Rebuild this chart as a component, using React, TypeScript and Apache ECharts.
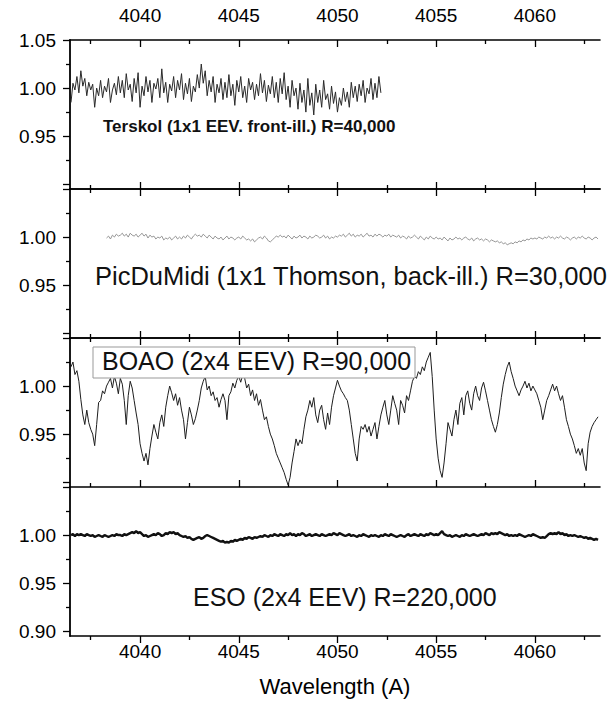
import React, { useEffect, useRef } from "react";
import * as echarts from "echarts";

// ---- axes ----
const X_MIN = 4036.45;
const X_MAX = 4063.3;
const Y_MIN = 0.895;
const Y_MAX = 1.05;
const xMajorTicks = [4040, 4045, 4050, 4055, 4060];
const xMinorTicks = [4037.5, 4042.5, 4047.5, 4052.5, 4057.5, 4062.5];
const yMajorTicks = [0.9, 0.95, 1.0, 1.05];
const yMinorTicks = [0.925, 0.975, 1.025];
const yLabelSets = [
  [0.95, 1.0, 1.05],
  [0.95, 1.0],
  [0.95, 1.0],
  [0.9, 0.95, 1.0],
];
const xAxisTitle = "Wavelength (A)";
const panelLabels = [
  "Terskol (1x1 EEV. front-ill.) R=40,000",
  "PicDuMidi (1x1 Thomson, back-ill.) R=30,000",
  "BOAO (2x4 EEV) R=90,000",
  "ESO (2x4 EEV) R=220,000",
];

// ---- spectra (sampled every 0.1 A from the start wavelength) ----
const STEP = 0.1;

const terskolStart = 4036.5;
const terskolFlux = [
  0.985, 1.005, 0.998, 1.012, 0.995,
  1.018, 1.002, 1.010, 0.992, 1.006, 0.998, 1.004, 0.980, 1.000, 0.992,
  1.008, 0.990, 1.002, 0.996, 1.010, 0.985, 0.998, 1.005, 0.993, 1.012,
  0.995, 1.008, 0.990, 1.015, 0.998, 1.004, 0.986, 1.010, 0.995, 1.016,
  0.980, 1.002, 0.992, 1.012, 0.996, 1.008, 0.985, 1.005, 0.999, 1.010,
  0.990, 1.020, 0.995, 1.006, 0.985, 1.004, 0.997, 1.012, 0.990, 1.008,
  0.998, 1.015, 0.988, 1.005, 0.994, 1.010, 0.986, 1.002, 0.996, 1.014,
  1.000, 1.025, 1.005, 1.018, 0.992, 1.008, 0.996, 1.012, 0.985, 1.004,
  0.995, 1.010, 0.988, 1.006, 0.990, 1.014, 0.992, 1.004, 0.982, 1.008,
  0.996, 1.012, 0.990, 1.002, 0.985, 1.010, 0.998, 1.006, 0.988, 1.004,
  0.992, 1.015, 0.995, 1.008, 0.986, 1.003, 0.994, 1.012, 0.990, 1.006,
  0.985, 1.010, 0.994, 1.016, 0.988, 1.002, 0.980, 1.008, 0.992, 1.000,
  0.978, 1.005, 0.985, 0.998, 0.975, 1.010, 0.982, 0.995, 0.972, 1.004,
  0.985, 0.998, 0.980, 1.008, 0.988, 0.994, 0.978, 1.002, 0.984, 0.996,
  0.975, 0.990, 0.982, 1.000, 0.986, 0.996, 0.980, 1.006, 0.990, 1.002,
  0.986, 1.004, 0.992, 1.008, 0.985, 1.000, 0.994, 1.010, 0.988, 1.005,
  0.990, 1.012, 0.995,
];

const picStart = 4038.3;
const picFlux = [
  0.999, 1.001, 0.998, 1.002, 1.000, 1.003, 1.001,
  1.002, 1.004, 1.001, 1.003, 1.000, 1.004, 1.002, 1.001, 1.003, 1.000,
  1.002, 1.004, 1.001, 1.003, 0.999, 1.002, 1.000, 1.001, 0.998, 1.000,
  0.999, 1.001, 0.997, 0.999, 0.998, 1.000, 0.997, 0.999, 1.001, 0.998,
  1.000, 0.998, 1.001, 0.999, 1.002, 1.000, 0.998, 1.001, 1.003, 1.001,
  1.002, 1.000, 1.003, 1.001, 0.999, 1.002, 1.000, 0.998, 1.001, 0.999,
  0.998, 1.000, 0.997, 0.999, 1.001, 0.998, 1.000, 0.999, 0.997, 0.999,
  1.000, 0.998, 1.001, 0.999, 0.997, 0.998, 0.996, 0.998, 0.995, 0.997,
  0.999, 1.000, 0.998, 1.001, 0.999, 0.996, 0.995, 0.997, 0.999, 1.001,
  1.000, 1.002, 1.000, 1.001, 0.999, 1.002, 1.000, 0.998, 1.001, 0.999,
  1.000, 1.002, 0.999, 1.001, 1.000, 0.998, 1.001, 0.999, 1.000, 1.002,
  1.001, 0.999, 1.000, 1.002, 0.999, 1.001, 0.998, 1.000, 0.999, 1.001,
  1.000, 1.002, 1.001, 1.003, 1.000, 1.002, 1.004, 1.001, 1.003, 1.000,
  1.002, 1.001, 1.003, 1.000, 1.002, 1.004, 1.001, 1.002, 1.000, 1.003,
  1.001, 1.003, 1.002, 1.000, 1.002, 1.001, 1.003, 1.000, 1.002, 1.001,
  1.000, 1.002, 0.999, 1.001, 1.000, 0.998, 1.001, 0.999, 1.000, 1.002,
  1.000, 0.998, 1.001, 0.999, 0.997, 1.000, 0.998, 1.001, 0.999, 0.998,
  1.000, 0.998, 0.999, 0.997, 1.000, 0.998, 0.996, 0.999, 0.997, 0.998,
  1.000, 0.998, 0.999, 0.997, 0.999, 1.000, 0.998, 0.997, 0.999, 0.996,
  0.998, 0.999, 0.997, 0.998, 0.996, 0.998, 0.997, 0.995, 0.997, 0.996,
  0.995, 0.996, 0.994, 0.995, 0.993, 0.994, 0.992, 0.993, 0.994, 0.993,
  0.995, 0.994, 0.996, 0.995, 0.997, 0.996, 0.998, 0.997, 0.999, 0.998,
  0.999, 0.998, 1.000, 0.999, 0.998, 1.000, 0.999, 1.001, 0.999, 1.000,
  0.998, 1.000, 0.999, 1.001, 0.999, 0.998, 1.000, 0.999, 0.997, 0.999,
  1.000, 0.998, 1.000, 0.999, 1.001, 0.999, 0.998, 1.000, 0.999, 0.997,
  0.999, 1.000, 0.998,
];

const boaoStart = 4036.5;
const boaoFlux = [
  1.020, 1.025, 1.012, 1.016, 1.005,
  0.986, 0.970, 0.960, 0.975, 0.962, 0.955, 0.950, 0.938, 0.960, 0.983,
  0.985, 0.995, 0.992, 1.000, 1.004, 1.008, 0.998, 1.010, 1.003, 0.992,
  1.008, 1.002, 0.985, 0.960, 0.990, 1.005, 0.998, 0.985, 0.972, 0.960,
  0.940, 0.930, 0.922, 0.930, 0.918, 0.935, 0.948, 0.960, 0.952, 0.945,
  0.962, 0.970, 0.958, 0.978, 0.990, 1.000, 0.993, 0.985, 0.992, 0.980,
  0.988, 0.975, 0.965, 0.945, 0.962, 0.978, 0.970, 0.960, 0.966, 0.975,
  0.985, 0.998, 1.005, 1.010, 0.996, 1.000, 0.990, 0.994, 0.985, 0.988,
  0.978, 0.986, 0.992, 0.985, 0.965, 0.990, 0.994, 1.003, 0.998, 1.006,
  1.010, 1.004, 1.012, 1.008, 0.998, 1.002, 0.990, 0.996, 0.985, 0.992,
  0.980, 0.986, 0.975, 0.965, 0.968, 0.958, 0.950, 0.945, 0.938, 0.930,
  0.925, 0.920, 0.915, 0.910, 0.903, 0.897, 0.905, 0.920, 0.932, 0.945,
  0.938, 0.944, 0.940, 0.955, 0.968, 0.975, 0.985, 0.978, 0.988, 0.970,
  0.962, 0.975, 0.980, 0.965, 0.955, 0.972, 0.960, 0.978, 0.990, 0.998,
  1.006, 1.000, 0.995, 0.992, 0.988, 0.985, 0.975, 0.960, 0.945, 0.930,
  0.922, 0.945, 0.958, 0.955, 0.960, 0.952, 0.958, 0.948, 0.955, 0.962,
  0.945, 0.958, 0.970, 0.978, 0.985, 0.970, 0.960, 0.975, 0.990, 0.982,
  0.975, 0.960, 0.985, 0.980, 0.972, 0.990, 0.985, 0.995, 1.005, 1.010,
  1.008, 1.015, 1.012, 1.020, 1.016, 1.025, 1.030, 1.035, 1.010, 0.975,
  0.945, 0.925, 0.912, 0.905, 0.920, 0.940, 0.962, 0.955, 0.948, 0.965,
  0.975, 0.960, 0.982, 0.988, 0.970, 0.990, 0.995, 0.982, 0.975, 0.992,
  1.000, 0.990, 0.985, 0.998, 1.004, 0.995, 0.985, 0.975, 0.965, 0.958,
  0.952, 0.960, 0.972, 0.988, 1.002, 1.012, 1.020, 1.025, 1.015, 1.008,
  1.000, 0.995, 0.990, 0.996, 1.000, 1.005, 0.998, 1.003, 0.995, 1.000,
  0.996, 0.992, 0.985, 0.978, 0.965, 0.975, 0.985, 0.990, 0.996, 1.002,
  0.995, 1.000, 0.992, 0.985, 0.990, 0.978, 0.965, 0.958, 0.950, 0.945,
  0.938, 0.930, 0.935, 0.928, 0.935, 0.920, 0.912, 0.940, 0.952, 0.958,
  0.962, 0.965, 0.968,
];

const esoStart = 4036.5;
const esoFlux = [
  1.000, 1.001, 0.999, 1.001, 1.000,
  1.001, 1.000, 0.999, 1.001, 1.000, 0.999, 1.000, 0.998, 0.999, 1.000,
  0.999, 0.998, 1.000, 0.999, 0.998, 0.999, 1.000, 0.999, 1.001, 1.000,
  1.000, 0.999, 1.001, 1.000, 1.001, 1.002, 1.003, 1.002, 1.004, 1.002,
  1.003, 1.001, 0.999, 1.000, 0.998, 0.999, 1.000, 1.001, 1.000, 1.002,
  1.001, 0.999, 1.000, 1.002, 1.001, 1.003, 1.002, 1.003, 1.001, 1.002,
  1.000, 0.999, 0.998, 0.999, 0.997, 0.998, 0.996, 0.995, 0.996, 0.997,
  0.998, 0.996, 0.997, 0.999, 1.000, 0.999, 0.998, 0.997, 0.996, 0.995,
  0.994, 0.993, 0.994, 0.992, 0.993, 0.992, 0.994, 0.993, 0.995, 0.994,
  0.995, 0.996, 0.995, 0.997, 0.996, 0.998, 0.997, 0.996, 0.998, 0.997,
  0.998, 0.999, 0.998, 1.000, 0.999, 0.998, 1.000, 0.999, 1.001, 1.000,
  0.999, 1.001, 1.000, 0.999, 1.001, 1.000, 1.002, 1.000, 1.001, 0.999,
  1.001, 1.000, 1.002, 1.001, 0.999, 1.000, 1.001, 0.999, 1.000, 1.001,
  1.000, 0.999, 1.001, 1.000, 0.999, 1.000, 1.001, 1.000, 1.002, 1.001,
  1.000, 1.002, 1.001, 1.000, 0.999, 1.000, 1.001, 0.999, 1.000, 0.999,
  0.998, 1.000, 0.999, 1.001, 1.000, 0.999, 0.998, 1.000, 0.999, 1.000,
  0.999, 0.998, 1.000, 0.999, 1.001, 1.000, 0.999, 1.001, 1.000, 0.999,
  0.998, 0.999, 1.000, 0.999, 0.998, 1.000, 1.001, 0.999, 1.000, 1.001,
  1.000, 0.999, 1.001, 1.000, 0.999, 1.001, 1.000, 1.002, 1.001, 1.000,
  1.001, 1.000, 1.002, 1.004, 1.001, 1.000, 0.999, 1.000, 0.998, 0.999,
  1.000, 0.999, 0.998, 1.000, 0.999, 1.001, 1.000, 0.999, 1.000, 1.001,
  1.000, 0.999, 1.000, 1.001, 1.000, 1.002, 1.001, 1.000, 1.002, 1.001,
  1.002, 1.001, 1.003, 1.002, 1.001, 1.000, 1.001, 0.999, 1.000, 0.999,
  1.000, 0.999, 1.001, 1.000, 0.999, 0.998, 0.999, 1.000, 0.999, 1.001,
  1.000, 0.999, 0.998, 0.997, 0.998, 0.997, 0.999, 1.001, 1.002, 1.001,
  1.002, 1.001, 1.003, 1.001, 1.002, 1.000, 1.001, 0.999, 1.000, 0.999,
  1.000, 0.999, 0.998, 0.999, 0.998, 0.997, 0.998, 0.996, 0.997, 0.996,
  0.995, 0.996, 0.995,
];

const FONT = "'Liberation Sans', Arial, Helvetica, sans-serif";

function toPairs(start: number, flux: number[]) {
  return flux.map((v, i) => [Math.round((start + i * STEP) * 100) / 100, v]);
}

function buildOption() {
  const GRID_LEFT = 70;
  const GRID_W = 530;
  const GRID_TOP = 40;
  const GRID_H = 149;
  const grids = [0, 1, 2, 3].map((i) => ({
    left: GRID_LEFT,
    width: GRID_W,
    top: GRID_TOP + GRID_H * i,
    height: GRID_H,
    containLabel: false,
  }));

  const xAxes: any[] = [];
  const yAxes: any[] = [];
  const mainX: number[] = [];
  const mainY: number[] = [];

  const xAx = (
    grid: number,
    position: string,
    ticks: number[],
    len: number,
    inside: boolean,
    labels: number[] | null,
    showLine: boolean,
    extra: any = {}
  ) => ({
    type: "value",
    gridIndex: grid,
    position,
    min: X_MIN,
    max: X_MAX,
    axisLine: { show: showLine, onZero: false, lineStyle: { color: "#000", width: 1.6 } },
    axisTick: {
      show: true,
      customValues: ticks,
      length: len,
      inside,
      lineStyle: { color: "#000", width: 1.3 },
    },
    axisLabel: {
      show: !!labels,
      customValues: labels || [],
      formatter: (v: number) => String(Math.round(v)),
      color: "#000",
      fontSize: 19,
      fontFamily: FONT,
      margin: position === "top" ? 15 : 6,
    },
    splitLine: { show: false },
    ...extra,
  });

  const yAx = (grid: number, ticks: number[], len: number, labels: number[] | null, showLine: boolean) => ({
    type: "value",
    gridIndex: grid,
    position: "left",
    min: Y_MIN,
    max: Y_MAX,
    axisLine: { show: showLine, onZero: false, lineStyle: { color: "#000", width: 1.8 } },
    axisTick: {
      show: true,
      customValues: ticks,
      length: len,
      inside: false,
      lineStyle: { color: "#000", width: 1.3 },
    },
    axisLabel: {
      show: !!labels,
      customValues: labels || [],
      formatter: (v: number) => v.toFixed(2),
      color: "#000",
      fontSize: 19,
      fontFamily: FONT,
      margin: 14,
    },
    splitLine: { show: false },
  });

  for (let i = 0; i < 4; i++) {
    const last = i === 3;
    mainX.push(xAxes.length);
    xAxes.push(
      xAx(
        i,
        "bottom",
        xMajorTicks,
        7,
        !last,
        last ? xMajorTicks : null,
        true,
        last
          ? {
              name: xAxisTitle,
              nameLocation: "middle",
              nameGap: 39,
              nameTextStyle: { fontSize: 22, fontFamily: FONT, color: "#000" },
            }
          : {}
      )
    );
    xAxes.push(xAx(i, "bottom", xMinorTicks, 4, !last, null, false));
    if (!last) {
      xAxes.push(xAx(i, "top", xMajorTicks, 7, true, i === 0 ? xMajorTicks : null, true));
      xAxes.push(xAx(i, "top", xMinorTicks, 4, true, null, false));
    }
    mainY.push(yAxes.length);
    yAxes.push(yAx(i, yMajorTicks, 7, yLabelSets[i], true));
    yAxes.push(yAx(i, yMinorTicks, 4, null, false));
  }

  const lineSeries = (i: number, data: number[][], color: string, width: number) => ({
    type: "line",
    xAxisIndex: mainX[i],
    yAxisIndex: mainY[i],
    data,
    showSymbol: false,
    symbol: "none",
    clip: true,
    lineStyle: { color, width },
    z: 2,
  });

  const series = [
    lineSeries(0, toPairs(terskolStart, terskolFlux), "#2a2a2a", 1),
    lineSeries(1, toPairs(picStart, picFlux), "#8a8a8a", 0.9),
    lineSeries(2, toPairs(boaoStart, boaoFlux), "#1e1e1e", 1),
    lineSeries(3, toPairs(esoStart, esoFlux), "#111", 2.4),
  ];

  const graphic = [
    {
      type: "text",
      left: 103,
      top: 118,
      z: 100,
      style: { text: panelLabels[0], fontSize: 17, fontWeight: "bold", fontFamily: FONT, fill: "#111" },
    },
    {
      type: "text",
      left: 95,
      top: 263,
      z: 100,
      style: { text: panelLabels[1], fontSize: 25.5, fontFamily: FONT, fill: "#111" },
    },
    {
      type: "rect",
      z: 99,
      shape: { x: 93, y: 347, width: 322, height: 31 },
      style: { fill: "#fff", stroke: "#999", lineWidth: 1 },
    },
    {
      type: "text",
      left: 102,
      top: 348,
      z: 100,
      style: { text: panelLabels[2], fontSize: 25, fontFamily: FONT, fill: "#111" },
    },
    {
      type: "text",
      left: 193,
      top: 584,
      z: 100,
      style: { text: panelLabels[3], fontSize: 25, fontFamily: FONT, fill: "#111" },
    },
  ];

  return {
    animation: false,
    backgroundColor: "#fff",
    grid: grids,
    xAxis: xAxes,
    yAxis: yAxes,
    series,
    graphic,
  };
}

export default function App() {
  const ref = useRef<HTMLDivElement>(null);
  useEffect(() => {
    if (!ref.current) return;
    const chart = echarts.init(ref.current, null, { renderer: "svg" });
    chart.setOption(buildOption() as any);
    return () => chart.dispose();
  }, []);
  return (
    <div
      ref={ref}
      style={{ width: 616, height: 707, position: "absolute", left: 0, top: 0, background: "#fff" }}
    />
  );
}
